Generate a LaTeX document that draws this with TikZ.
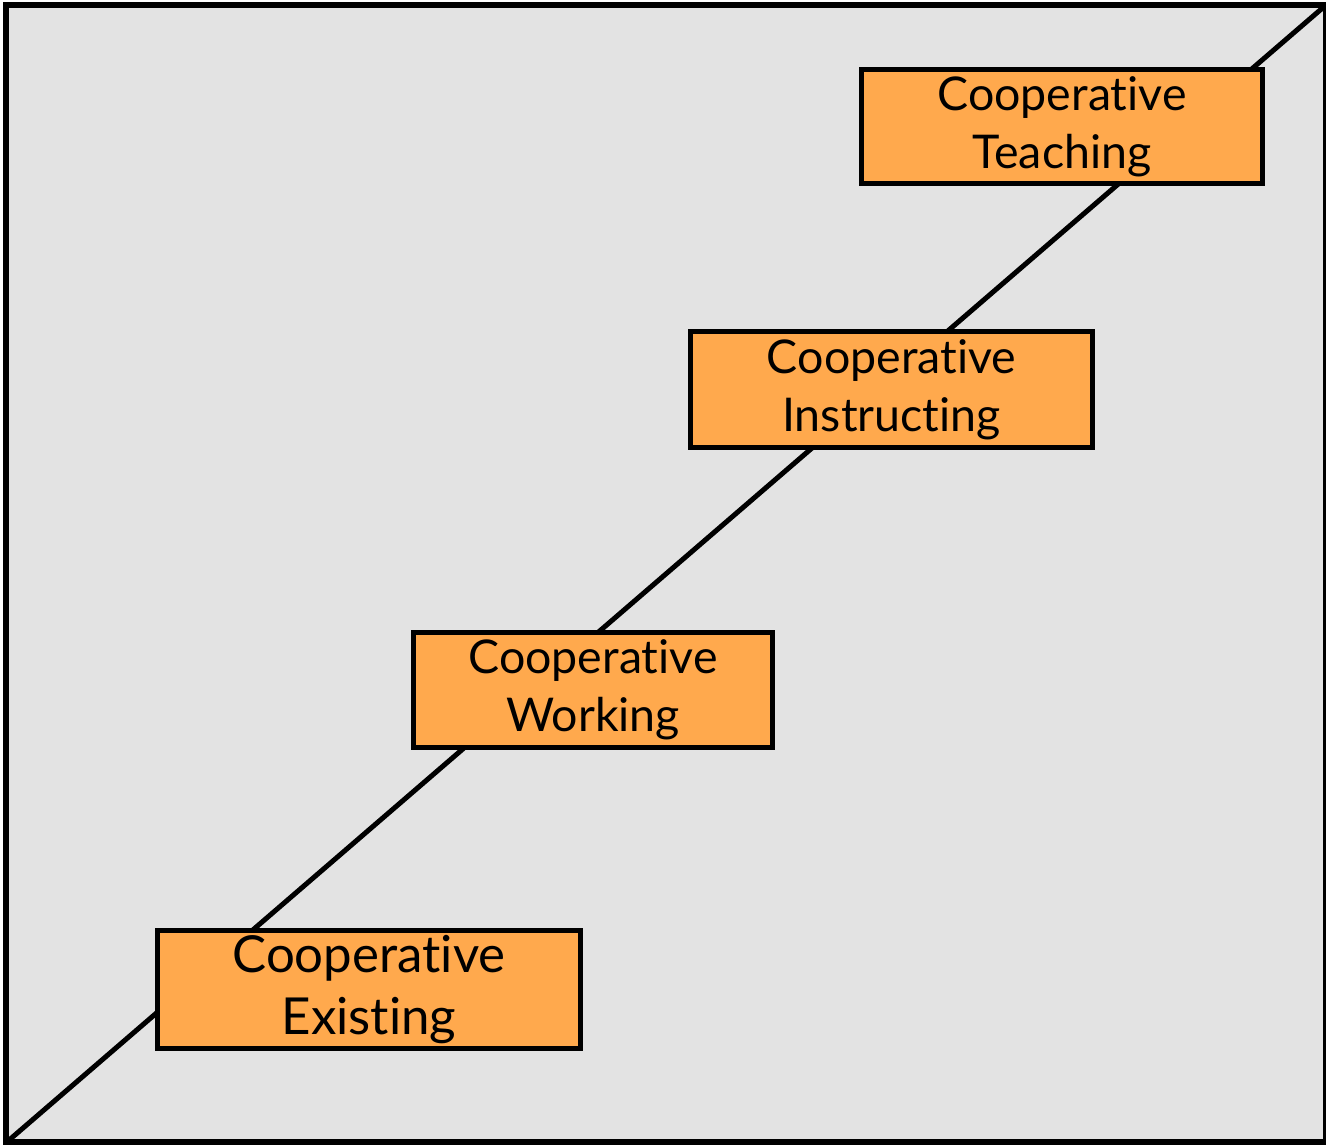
\documentclass[tikz,border=0pt]{standalone}
\usepackage{fontspec}
\setmainfont[Ligatures=NoCommon]{Lato}
\definecolor{bggray}{HTML}{E3E3E3}
\definecolor{boxorange}{HTML}{FFA94D}
\begin{document}
\begin{tikzpicture}[x=1pt,y=-1pt,
  stage/.style={draw=black, line width=5pt, fill=boxorange, align=center,
    inner sep=0pt, font=\fontsize{46.5}{58}\selectfont},
  bigstage/.style={stage, font=\fontsize{51}{62}\selectfont}]
\useasboundingbox (0,0) rectangle (1326,1145);
\draw[line width=6pt, fill=bggray] (6,5.5) rectangle (1326,1142);
\coordinate (start) at (8,1141);
\coordinate (finish) at (1326,5);
\draw[line width=5pt] (start) -- (finish);
\node[stage, minimum width=401pt, minimum height=114pt] (teach) at (1062,126.5) {Cooperative\\Teaching};
\node[stage, minimum width=402pt, minimum height=116pt] (instr) at (891.5,389.5) {Cooperative\\Instructing};
\node[stage, minimum width=359pt, minimum height=115pt] (work) at (593,690) {Cooperative\\Working};
\node[bigstage, minimum width=423pt, minimum height=118pt] (exist) at (369,989.5) {Cooperative\\Existing};
\end{tikzpicture}
\end{document}
